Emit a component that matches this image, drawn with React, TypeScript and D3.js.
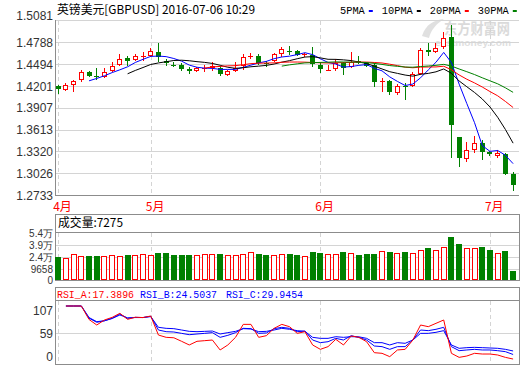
import React from "react";
import * as d3 from "d3";

// GBPUSD daily, 2016-04-14 .. 2016-07-06 (60 sessions)
const open = [
  1.42, 1.4153, 1.4214, 1.4288, 1.4384, 1.4335, 1.4325, 1.4406, 1.4489, 1.458,
  1.4546, 1.4594, 1.4604, 1.4664, 1.4539, 1.4489, 1.4483, 1.4436, 1.4406, 1.444,
  1.4442, 1.4438, 1.4355, 1.4399, 1.4473, 1.4601, 1.4607, 1.4514, 1.4543, 1.4628,
  1.4678, 1.4674, 1.4624, 1.4617, 1.4487, 1.4411, 1.4425, 1.4506, 1.446, 1.4539,
  1.451, 1.4483, 1.4257, 1.4267, 1.4113, 1.4207, 1.42, 1.4366, 1.4685, 1.466,
  1.4721, 1.486, 1.351, 1.3213, 1.3339, 1.3433, 1.3316, 1.3258, 1.3282, 1.3013,
];
const high = [
  1.4214, 1.4236, 1.4281, 1.4415, 1.4402, 1.4449, 1.4446, 1.4527, 1.4631, 1.4611,
  1.4627, 1.4662, 1.4707, 1.4779, 1.457, 1.4523, 1.4506, 1.446, 1.4456, 1.4487,
  1.4527, 1.4469, 1.4415, 1.4519, 1.4635, 1.4651, 1.4627, 1.4541, 1.464, 1.4729,
  1.4734, 1.4691, 1.4648, 1.4729, 1.4527, 1.4485, 1.4568, 1.4519, 1.4662, 1.4604,
  1.4523, 1.4506, 1.4314, 1.4288, 1.4227, 1.4236, 1.4393, 1.4707, 1.4775, 1.4775,
  1.4931, 1.5021, 1.351, 1.345, 1.3534, 1.3473, 1.3332, 1.3339, 1.3298, 1.3039,
];
const low = [
  1.4088, 1.4137, 1.4123, 1.4258, 1.4325, 1.4281, 1.4312, 1.4393, 1.4473, 1.4473,
  1.4537, 1.4541, 1.459, 1.4527, 1.4465, 1.4452, 1.4402, 1.4362, 1.4395, 1.4395,
  1.4409, 1.4341, 1.4335, 1.4388, 1.4419, 1.4561, 1.4489, 1.4452, 1.4527, 1.4594,
  1.4624, 1.4604, 1.4594, 1.446, 1.4379, 1.4405, 1.4406, 1.4348, 1.4438, 1.4496,
  1.4456, 1.4187, 1.4123, 1.4086, 1.4079, 1.4012, 1.4183, 1.4348, 1.4611, 1.4644,
  1.4694, 1.3227, 1.3114, 1.3184, 1.3294, 1.3204, 1.3258, 1.3227, 1.3002, 1.2787,
];
const close = [
  1.4156, 1.4214, 1.4263, 1.4384, 1.4339, 1.4317, 1.4395, 1.4476, 1.457, 1.4543,
  1.4607, 1.4608, 1.4674, 1.459, 1.4506, 1.448, 1.4433, 1.4405, 1.4445, 1.4446,
  1.4465, 1.4364, 1.4405, 1.4446, 1.4586, 1.4611, 1.4516, 1.4506, 1.4627, 1.4701,
  1.4667, 1.462, 1.4635, 1.4496, 1.4425, 1.4418, 1.4506, 1.4438, 1.453, 1.4506,
  1.4469, 1.4258, 1.4265, 1.4123, 1.42, 1.4193, 1.4359, 1.4685, 1.4654, 1.4718,
  1.4853, 1.3675, 1.3235, 1.3339, 1.3433, 1.3316, 1.3281, 1.3294, 1.3018, 1.2868,
];
const volume = [
  23600, 22400, 27700, 25200, 25200, 25200, 25200, 26500, 25200, 26500,
  26500, 27700, 26500, 29300, 29300, 26500, 26500, 26500, 26500, 27700,
  27700, 27700, 26500, 26500, 27700, 29800, 27700, 26500, 26500, 27700,
  27700, 26500, 24900, 30200, 28900, 27300, 27300, 30200, 28600, 26500,
  27700, 27700, 31000, 30200, 28600, 30200, 28600, 32300, 35100, 32300,
  36000, 48700, 40000, 34700, 34700, 36300, 32600, 28600, 31400, 7275,
];
const rsiA = [
  null, 100, 100, 100, 79, 70.4, 78.2, 82.3, 88.6, 79.2,
  82.5, 82, 84.4, 54.8, 51.2, 50.5, 45, 39.3, 45, 46,
  47, 31.5, 39.3, 51.2, 71.4, 71.4, 51.2, 53.8, 65.2, 71.4,
  67.8, 57.4, 60, 39.3, 32.5, 36.7, 48.1, 39.3, 53.3, 51.2,
  44.4, 27.3, 26.3, 21.1, 31.5, 32.5, 47, 70.4, 67.8, 73,
  78.2, 26.3, 20, 22.1, 26.3, 25.2, 25.2, 23.7, 20, 17.39,
];
const rsiB = [
  null, 100, 100, 100, 81, 74.6, 77, 81, 87.5, 80.8,
  82.3, 82, 84, 62.6, 60, 59.5, 57.4, 55.3, 56.4, 57.4,
  58.5, 51.2, 54.3, 58.5, 65.2, 64.7, 57.4, 58, 64.7, 66.8,
  65.2, 60, 61, 47, 42.9, 44.4, 49.6, 47, 53.8, 51,
  47, 37.7, 36.7, 32.5, 36.7, 36.7, 47, 62.6, 61.6, 63.7,
  66.8, 36.7, 30.4, 31.5, 32.5, 31.5, 31.5, 30.4, 28.9, 24.5,
];
const rsiC = [
  null, 100, 100, 100, 82, 75.6, 77, 80.5, 86, 81.5,
  82, 82, 83.5, 66.8, 65.2, 64.7, 62.6, 60.5, 60, 60.5,
  61, 56.4, 58.5, 60.5, 64.7, 64.2, 60, 60.5, 62.6, 65.2,
  63.7, 61.6, 60.5, 51.2, 49.6, 49.6, 52.2, 51.2, 52.2, 52,
  49.6, 42.9, 42.9, 39.3, 42.9, 41.9, 47, 57.4, 57.4, 59,
  61.6, 39.3, 34.1, 35.1, 35.6, 35.1, 34.6, 34.1, 32.5, 29.95,
];

const priceTicks = [1.5081, 1.4788, 1.4494, 1.4201, 1.3907, 1.3613, 1.332, 1.3026, 1.2733];
const volumeTicks = [54000, 39000, 24000, 9658];
const rsiLabels = ["107", "59", "0"];
const monthLabels = ["4月", "5月", "6月", "7月"];
const monthStart = [0, 12, 34, 56];
const maNames = ["5PMA", "10PMA", "20PMA", "30PMA"];
const maPeriods = [5, 10, 20, 30];
const maColors = ["#0000ff", "#000000", "#ff0000", "#008000"];

const UP = "#ff0000";
const DOWN = "#008000";
const GRID = "#d4d4d4";
const BORDER = "#8c8c8c";
const LEFT = 56;
const RIGHT = 519;
const NUM_FONT = "'Liberation Sans', Arial, sans-serif";
const CJK_FONT = "'Noto Sans CJK SC', sans-serif";
const MONO_FONT = "'Liberation Mono', 'DejaVu Sans Mono', monospace";

const movingAvg = (n: number) =>
  close.map((_, i) => (i < n - 1 ? null : d3.mean(close.slice(i - n + 1, i + 1)) as number));

const fmtVol = (v: number) => (v >= 10000 ? (v / 10000).toFixed(1) + "万" : String(v));

export default function App() {
  const idx = d3.range(close.length);
  const x = d3.scaleBand<number>().domain(idx).range([54.35, 516.95]);
  const cx = (i: number) => (x(i) as number) + x.bandwidth() / 2;

  const y = d3.scaleLinear().domain([1.2733, 1.5081]).range([195, 20.7]);
  const vy = d3.scaleLinear().domain([-4400, 54000]).range([280, 232.7]);
  const ry = d3.scaleLinear().domain([0, 100]).range([370.2, 306]);
  const rl = d3.scalePoint<string>().domain(rsiLabels).range([310, 356]);

  const maLine = d3
    .line<number | null>()
    .defined((d) => d != null)
    .x((_, i) => cx(i))
    .y((d) => y(d as number));

  const rsiLine = d3
    .line<number | null>()
    .defined((d) => d != null)
    .x((_, i) => cx(i))
    .y((d) => ry(d as number));

  const mas = maPeriods.map(movingAvg);

  // legend layout
  let lx = 340;
  const legend = maNames.map((name, i) => {
    const tw = name.length * 6.2;
    const item = { name, x: lx, dash: lx + tw + 4, color: maColors[i], tw };
    lx = item.dash + 13;
    return item;
  });

  return (
    <svg
      width={520}
      height={365}
      style={{ position: "absolute", left: 0, top: 0, background: "#fff" }}
    >
      <rect x={0} y={0} width={520} height={365} fill="#fff" />

      {/* title + legend */}
      <text x={57} y={14} fontSize={12} fontFamily={CJK_FONT} fill="#000" textLength={198} lengthAdjust="spacingAndGlyphs">
        英镑美元[GBPUSD] 2016-07-06 10:29
      </text>
      {legend.map((d) => (
        <g key={d.name}>
          <text x={d.x} y={14} fontSize={10.5} fontFamily={MONO_FONT} fill="#000" textLength={d.tw} lengthAdjust="spacingAndGlyphs">
            {d.name}
          </text>
          <rect x={d.dash} y={10} width={4} height={2} fill={d.color} />
        </g>
      ))}

      {/* watermark */}
      <g opacity={0.55}>
        <path d="M422,36 C426,24 434,20 444,19 C436,24 431,30 429,38 Z" fill="#c8c8c8" />
        <text x={444} y={34} fontSize={15} fontWeight="bold" fontFamily={CJK_FONT} fill="#bdbdbd" textLength={66} lengthAdjust="spacingAndGlyphs">
          东方财富网
        </text>
        <text x={435} y={46} fontSize={9} fontWeight="bold" fontFamily={NUM_FONT} fill="#c4c4c4" textLength={76} lengthAdjust="spacingAndGlyphs">
          eastmoney.com
        </text>
      </g>

      {/* ===== price panel ===== */}
      <g shapeRendering="crispEdges">
        {priceTicks.slice(1, -1).map((t) => (
          <line key={t} x1={LEFT} x2={RIGHT} y1={Math.round(y(t)) + 0.5} y2={Math.round(y(t)) + 0.5} stroke={GRID} />
        ))}
        {monthStart.map((m) => (
          <line key={m} x1={Math.round(cx(m)) + 0.5} x2={Math.round(cx(m)) + 0.5} y1={21} y2={195} stroke={GRID} strokeDasharray="4,3" />
        ))}
        <line x1={LEFT} x2={RIGHT} y1={20.5} y2={20.5} stroke={GRID} />
        <line x1={LEFT} x2={RIGHT} y1={195.5} y2={195.5} stroke={BORDER} />
        <line x1={LEFT - 0.5} x2={LEFT - 0.5} y1={20} y2={196} stroke={BORDER} />
      </g>
      {priceTicks.map((t, i) => (
        <text key={t} x={53} y={y(t) + (i === 0 ? -1 : 4.5)} textAnchor="end" fontSize={12} fontFamily={NUM_FONT} fill="#333">
          {t.toFixed(4)}
        </text>
      ))}
      {monthLabels.map((m, i) => (
        <text key={m} x={cx(monthStart[i]) - 5} y={211} fontSize={12} fontFamily={CJK_FONT} fill="#ff0000">
          {m}
        </text>
      ))}

      {/* candles */}
      <g shapeRendering="crispEdges">
        {idx.map((i) => {
          const o = open[i];
          const c = close[i];
          const up = c >= o;
          const bx = Math.round(cx(i) - 2.5);
          const wx = bx + 2.5;
          const top = Math.round(y(Math.max(o, c)));
          const bot = Math.round(y(Math.min(o, c)));
          const h = Math.max(1, bot - top);
          const yh = Math.round(y(high[i]));
          const yl = Math.round(y(low[i]));
          if (up) {
            return (
              <g key={i}>
                <line x1={wx} x2={wx} y1={yh} y2={top} stroke={UP} />
                <line x1={wx} x2={wx} y1={top + h} y2={yl} stroke={UP} />
                {h <= 1 ? (
                  <line x1={bx} x2={bx + 5} y1={top + 0.5} y2={top + 0.5} stroke={UP} />
                ) : (
                  <rect x={bx + 0.5} y={top + 0.5} width={4} height={h - 1} fill="#fff" stroke={UP} />
                )}
              </g>
            );
          }
          return (
            <g key={i}>
              <line x1={wx} x2={wx} y1={yh} y2={yl} stroke={DOWN} />
              <rect x={bx} y={top} width={5} height={h} fill={DOWN} />
            </g>
          );
        })}
      </g>

      {/* moving averages */}
      {mas.map((m, k) => (
        <path key={k} d={maLine(m) as string} fill="none" stroke={maColors[k]} strokeWidth={1} />
      ))}

      {/* ===== volume panel ===== */}
      <g shapeRendering="crispEdges">
        {volumeTicks.slice(1).map((t) => (
          <line key={t} x1={LEFT} x2={RIGHT} y1={Math.round(vy(t)) + 0.5} y2={Math.round(vy(t)) + 0.5} stroke={GRID} />
        ))}
        {monthStart.map((m) => (
          <line key={m} x1={Math.round(cx(m)) + 0.5} x2={Math.round(cx(m)) + 0.5} y1={233} y2={280} stroke={GRID} strokeDasharray="4,3" />
        ))}
        <rect x={LEFT - 0.5} y={214.5} width={RIGHT - LEFT + 0.5} height={66} fill="none" stroke={BORDER} />
        <line x1={LEFT} x2={RIGHT} y1={232.5} y2={232.5} stroke={BORDER} />
      </g>
      <text x={58} y={227} fontSize={12} fontFamily={CJK_FONT} fill="#000" textLength={65} lengthAdjust="spacingAndGlyphs">
        成交量:{volume[volume.length - 1]}
      </text>
      {volumeTicks.map((t) => (
        <text key={t} x={53} y={vy(t) + 4} textAnchor="end" fontSize={10} fontFamily={NUM_FONT} fill="#333">
          {fmtVol(t)}
        </text>
      ))}
      <text x={53} y={vy.range()[0] + 4} textAnchor="end" fontSize={10} fontFamily={NUM_FONT} fill="#333">
        0
      </text>
      <g shapeRendering="crispEdges">
        {idx.map((i) => {
          const up = close[i] >= open[i];
          const bx = Math.round(cx(i) - 3);
          const top = Math.round(vy(volume[i]));
          const h = 280 - top;
          return up ? (
            <rect key={i} x={bx + 0.5} y={top + 0.5} width={5} height={h - 1} fill="#fff" stroke={UP} />
          ) : (
            <rect key={i} x={bx} y={top} width={6} height={h} fill={DOWN} />
          );
        })}
      </g>

      {/* ===== RSI panel ===== */}
      <g shapeRendering="crispEdges">
        <line x1={LEFT} x2={RIGHT} y1={Math.round(rl("59") as number) + 0.5} y2={Math.round(rl("59") as number) + 0.5} stroke={GRID} />
        {monthStart.map((m) => (
          <line key={m} x1={Math.round(cx(m)) + 0.5} x2={Math.round(cx(m)) + 0.5} y1={301} y2={364} stroke={GRID} strokeDasharray="4,3" />
        ))}
        <rect x={LEFT - 0.5} y={287.5} width={RIGHT - LEFT + 0.5} height={77} fill="none" stroke={BORDER} />
        <line x1={LEFT} x2={RIGHT} y1={300.5} y2={300.5} stroke={BORDER} />
      </g>
      {[
        { label: "RSI_A:17.3896", x: 57, color: "#ff0000" },
        { label: "RSI_B:24.5037", x: 140, color: "#0000ff" },
        { label: "RSI_C:29.9454", x: 226, color: "#0000ff" },
      ].map((d) => (
        <text key={d.label} x={d.x} y={298} fontSize={10} fontFamily={MONO_FONT} fill={d.color} textLength={77} lengthAdjust="spacingAndGlyphs">
          {d.label}
        </text>
      ))}
      {rsiLabels.map((l) => (
        <text key={l} x={53} y={(rl(l) as number) + 4.5} textAnchor="end" fontSize={12} fontFamily={NUM_FONT} fill="#333">
          {l}
        </text>
      ))}
      <path d={rsiLine(rsiC) as string} fill="none" stroke="#0000ff" strokeWidth={1} />
      <path d={rsiLine(rsiB) as string} fill="none" stroke="#0000ff" strokeWidth={1} />
      <path d={rsiLine(rsiA) as string} fill="none" stroke="#ff0000" strokeWidth={1} />
    </svg>
  );
}
